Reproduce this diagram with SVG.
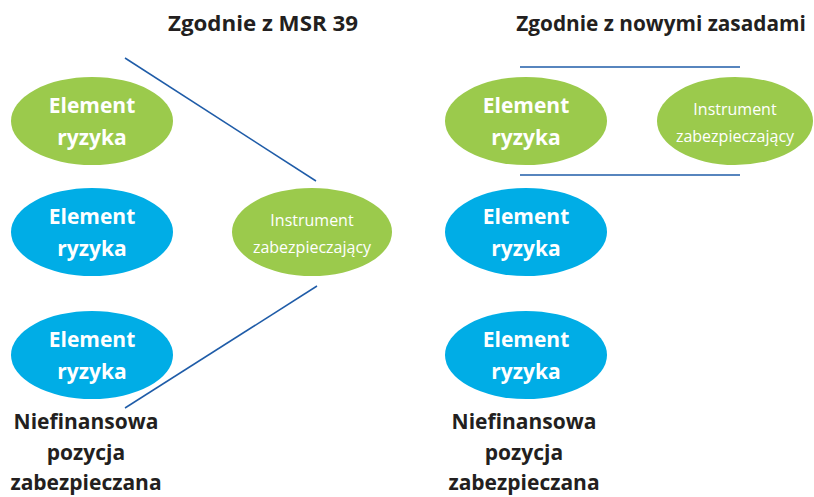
<svg xmlns="http://www.w3.org/2000/svg" width="814" height="497" viewBox="0 0 814 497">
<style>
.g{fill:#9BCA4C}
.b{fill:#00ADE6}
.el{font-family:"Open Sans","Liberation Sans",sans-serif;font-weight:700;font-size:21px;fill:#fff;text-anchor:middle}
.in{font-family:"Open Sans","Liberation Sans",sans-serif;font-weight:400;font-size:16px;fill:#fff;text-anchor:middle}
.t{font-family:"Open Sans","Liberation Sans",sans-serif;font-weight:700;font-size:21px;fill:#231F20;text-anchor:middle}
.h{font-family:"Open Sans","Liberation Sans",sans-serif;font-weight:700;font-size:22px;fill:#231F20;text-anchor:middle}
.ln{stroke:#1F5CA8;stroke-width:1.5;fill:none}
</style>
<rect width="814" height="497" fill="#fff"/>
<text class="h" x="263" y="31" textLength="190" lengthAdjust="spacingAndGlyphs">Zgodnie z MSR 39</text>
<text class="h" x="661" y="31" style="font-size:20.8px">Zgodnie z nowymi zasadami</text>
<g id="connectors">
<line class="ln" x1="125" y1="58" x2="316" y2="181"/>
<line class="ln" x1="317" y1="286" x2="125" y2="408"/>
<line class="ln" x1="520" y1="67" x2="740" y2="67"/>
<line class="ln" x1="520" y1="175" x2="740" y2="175"/>
</g>
<g id="l-green"><ellipse class="g" cx="92" cy="121" rx="81" ry="44"/><text class="el" x="92" y="113">Element</text><text class="el" x="92" y="145">ryzyka</text></g>
<g id="l-blue1"><ellipse class="b" cx="92" cy="232" rx="81" ry="44"/><text class="el" x="92" y="224">Element</text><text class="el" x="92" y="256">ryzyka</text></g>
<g id="l-blue2"><ellipse class="b" cx="92" cy="355" rx="81" ry="44"/><text class="el" x="92" y="347">Element</text><text class="el" x="92" y="379">ryzyka</text></g>
<g id="l-instr"><ellipse class="g" cx="312" cy="232" rx="80" ry="44"/><text class="in" x="312" y="226">Instrument</text><text class="in" x="312" y="253">zabezpieczający</text></g>
<g id="l-label"><text class="t" x="86" y="429">Niefinansowa</text><text class="t" x="86" y="460">pozycja</text><text class="t" x="86" y="490">zabezpieczana</text></g>
<g id="r-green"><ellipse class="g" cx="526" cy="121" rx="81" ry="44"/><text class="el" x="526" y="113">Element</text><text class="el" x="526" y="145">ryzyka</text></g>
<g id="r-instr"><ellipse class="g" cx="735" cy="121" rx="78" ry="44"/><text class="in" x="735" y="115">Instrument</text><text class="in" x="735" y="142">zabezpieczający</text></g>
<g id="r-blue1"><ellipse class="b" cx="526" cy="232" rx="81" ry="44"/><text class="el" x="526" y="224">Element</text><text class="el" x="526" y="256">ryzyka</text></g>
<g id="r-blue2"><ellipse class="b" cx="526" cy="355" rx="81" ry="44"/><text class="el" x="526" y="347">Element</text><text class="el" x="526" y="379">ryzyka</text></g>
<g id="r-label"><text class="t" x="524" y="429">Niefinansowa</text><text class="t" x="524" y="460">pozycja</text><text class="t" x="524" y="490">zabezpieczana</text></g>
</svg>
